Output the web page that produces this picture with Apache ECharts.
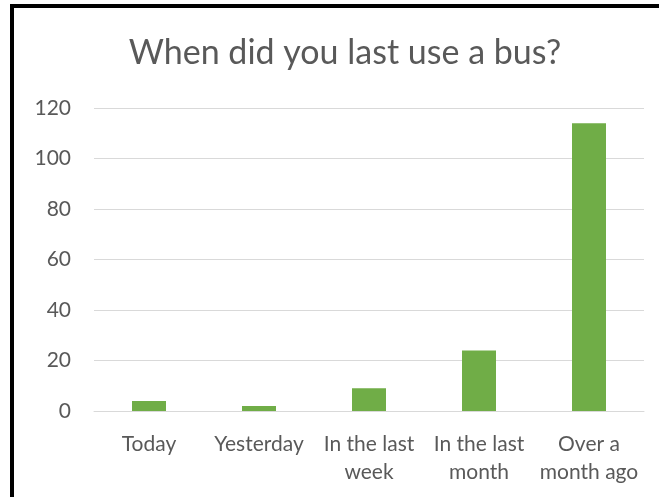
<!DOCTYPE html>
<html>
<head>
<meta charset="utf-8">
<script src="https://cdn.jsdelivr.net/npm/echarts@6/dist/echarts.min.js"></script>
<style>
  html, body { margin: 0; padding: 0; background: #fff; }
  .frame {
    position: absolute;
    left: 10px; top: 4px;
    width: 649px; height: 493px;
    border-top: 4px solid #000;
    border-left: 4px solid #000;
    box-sizing: border-box;
  }
  #chart { position: absolute; left: 0; top: 0; width: 659px; height: 497px; }
</style>
</head>
<body>
<div class="frame"></div>
<div id="chart"></div>
<script>
const categories = ['Today', 'Yesterday', 'In the last\nweek', 'In the last\nmonth', 'Over a\nmonth ago']
const counts = [4, 2, 9, 24, 114]
const yTicks = [0, 20, 40, 60, 80, 100, 120]

const chart = echarts.init(document.getElementById('chart'))

const option = {
  backgroundColor: 'transparent',
  animation: false,
  title: {
    text: 'When did you last use a bus?',
    left: 340,
    textAlign: 'center',
    top: 31,
    textStyle: {
      fontFamily: 'Lato',
      fontWeight: 'normal',
      fontSize: 34,
      color: '#595959'
    }
  },
  grid: {
    left: 94,
    right: 15,
    top: 108,
    bottom: 86
  },
  xAxis: {
    type: 'category',
    data: categories,
    axisTick: { show: false },
    axisLine: { lineStyle: { color: '#d9d9d9', width: 1 } },
    axisLabel: {
      interval: 0,
      hideOverlap: false,
      color: '#595959',
      fontFamily: 'Lato',
      fontSize: 21,
      lineHeight: 28,
      margin: 19
    }
  },
  yAxis: {
    type: 'value',
    min: yTicks[0],
    max: yTicks[yTicks.length - 1],
    interval: 20,
    axisLine: { show: false },
    axisTick: { show: false },
    splitLine: { lineStyle: { color: '#d9d9d9', width: 1 } },
    axisLabel: {
      color: '#595959',
      fontFamily: 'Lato',
      fontSize: 21,
      margin: 23
    }
  },
  series: [
    {
      type: 'bar',
      data: counts,
      barWidth: 34,
      itemStyle: { color: '#70ad47' }
    }
  ]
}

chart.setOption(option)
</script>
</body>
</html>
